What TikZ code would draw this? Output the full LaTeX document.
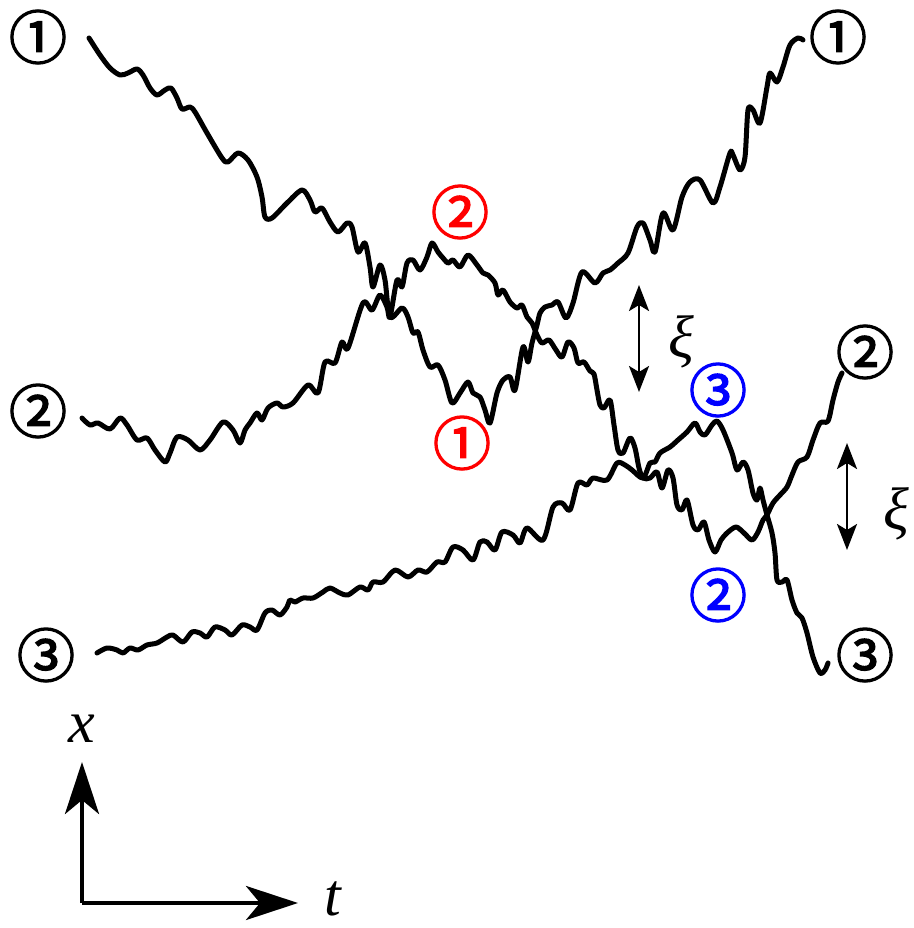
\documentclass[tikz,border=0pt]{standalone}
\usepackage{fontspec}
\setmainfont{Liberation Serif}
\newfontfamily\cjk{Noto Sans CJK JP}[FakeBold=2.5]
\usetikzlibrary{arrows.meta}
\begin{document}
\begin{tikzpicture}[x=1pt,y=-1pt,
  lab/.style={font=\cjk\fontsize{58}{58}\selectfont, inner sep=0pt},
  walk/.style={line width=5pt, line join=round, line cap=round},
  xiarrow/.style={line width=2.6pt, {Stealth[length=26pt,width=20pt,inset=6pt]}-{Stealth[length=26pt,width=20pt,inset=6pt]}},
  axis/.style={line width=4.5pt, -{Stealth[length=52pt,width=34pt,inset=14pt]}},
  big/.style={font=\itshape\fontsize{60}{60}\selectfont, inner sep=0pt}]
\useasboundingbox (0,0) rectangle (913,928);

% particle 1
\draw[walk] plot[smooth, tension=0.5] coordinates {
(89,38) (100,55) (110,68) (120,75) (128,73) (137,69) (143,75) (150,88) (157,95) (165,90) (171,88) (177,98) (182,109) (190,107) (195,112) (207,133) (222,158) (228,162) (238,153) (248,160) (257,177) (262,197) (265,217) (272,218) (287,203) (302,190) (310,200) (315,212) (322,208) (330,222) (338,232) (347,223) (352,227) (358,252) (365,243) (370,267) (373,287) (380,265) (385,280) (390,317) (402,308) (408,317) (413,333) (418,332) (423,350) (430,367) (438,365) (445,380) (452,403) (460,393) (468,382) (473,393) (480,397) (485,410) (490,423) (497,393) (503,380) (510,377) (515,390) (523,347) (528,362) (532,343) (537,325) (540,313) (545,307) (552,305) (558,302) (566,318) (573,303) (582,272) (595,283) (603,273) (610,270) (618,263) (628,253) (637,227) (643,223) (650,240) (655,252) (663,213) (673,230) (682,197) (690,182) (700,180) (713,203) (720,187) (730,153) (733,155) (740,170) (745,157) (748,110) (753,110) (760,123) (767,87) (770,73) (777,82) (783,67) (790,45) (798,38) (803,40)};

% particle 2
\draw[walk] plot[smooth, tension=0.5] coordinates {
(82,418) (90,425) (98,423) (110,429) (120,418) (127,425) (137,440) (147,438) (155,450) (165,462) (170,453) (177,437) (188,440) (200,450) (210,440) (223,422) (233,430) (240,443) (245,430) (250,423) (257,413) (262,420) (268,408) (277,403) (283,407) (293,403) (308,385) (318,393) (325,362) (335,363) (342,342) (348,348) (363,303) (372,310) (380,295) (387,307) (390,317) (397,280) (402,287) (407,263) (413,260) (420,270) (427,257) (432,243) (438,252) (443,258) (448,263) (453,260) (460,267) (468,255) (477,265) (483,273) (488,275) (495,283) (498,295) (503,290) (510,302) (517,308) (522,305) (527,317) (532,323) (537,335) (542,343) (549,340) (556,350) (562,357) (568,342) (574,348) (578,363) (584,362) (590,371) (594,374) (597,390) (600,405) (604,408) (610,400) (614,425) (618,450) (623,453) (630,438) (635,448) (639,468) (643,478) (650,478) (657,472) (662,488) (668,470) (673,478) (677,505) (682,510) (687,500) (693,525) (698,530) (704,522) (709,540) (715,552) (721,540) (727,533) (736,527) (744,533) (752,540) (758,532) (763,520) (767,515) (773,503) (780,495) (787,487) (792,475) (798,462) (807,457) (813,440) (820,423) (828,421) (833,400) (838,382) (842,373)};

% particle 3
\draw[walk] plot[smooth, tension=0.5] coordinates {
(97,653) (107,648) (117,650) (123,653) (130,648) (138,650) (147,645) (157,643) (167,637) (173,635) (183,642) (192,632) (200,633) (207,637) (215,627) (225,630) (232,635) (242,625) (250,627) (257,630) (265,613) (272,610) (280,615) (287,607) (290,600) (295,602) (303,598) (313,598) (323,592) (330,588) (340,593) (348,595) (360,587) (368,590) (373,582) (383,582) (395,570) (408,577) (418,570) (427,572) (437,562) (445,562) (453,547) (463,550) (473,560) (480,542) (487,542) (495,550) (502,532) (513,535) (520,543) (527,528) (543,540) (553,507) (562,503) (570,510) (578,483) (587,485) (593,478) (607,480) (617,463) (625,465) (632,470) (643,478) (650,463) (655,462) (660,453) (670,447) (678,440) (687,432) (695,423) (700,432) (705,435) (712,425) (717,421) (723,430) (732,453) (737,470) (743,462) (748,470) (753,493) (757,500) (760,488) (763,500) (767,515) (772,533) (775,553) (777,580) (782,582) (787,580) (792,600) (797,613) (802,618) (807,633) (813,657) (820,673) (825,670) (828,663)};

% labels
\node[lab] (s1) at (38,37) {①};
\node[lab] (s2) at (38,411) {②};
\node[lab] (s3) at (46,655) {③};
\node[lab] (e1) at (838,37) {①};
\node[lab] (e2) at (865,352) {②};
\node[lab] (e3) at (865,655) {③};
\node[lab, red] (r2) at (460,212) {②};
\node[lab, red] (r1) at (462,443) {①};
\node[lab, blue] (b3) at (718,390) {③};
\node[lab, blue] (b2) at (718,595) {②};

% xi arrows
\coordinate (xa1) at (639,285);
\coordinate (xb1) at (639,392);
\draw[xiarrow] (xa1) -- (xb1);
\node[big] (xi1) at (681,342) {ξ};
\coordinate (xa2) at (847,443);
\coordinate (xb2) at (847,550);
\draw[xiarrow] (xa2) -- (xb2);
\node[big] (xi2) at (896,514) {ξ};

% axes
\coordinate (o) at (82,903);
\coordinate (xt) at (82,762);
\coordinate (tt) at (298,903);
\draw[axis] (o) -- (xt);
\draw[axis] (o) -- (tt);
\node[big, anchor=base] (xl) at (82,742) {x};
\node[big, anchor=base] (tl) at (333,915) {t};
\end{tikzpicture}
\end{document}
